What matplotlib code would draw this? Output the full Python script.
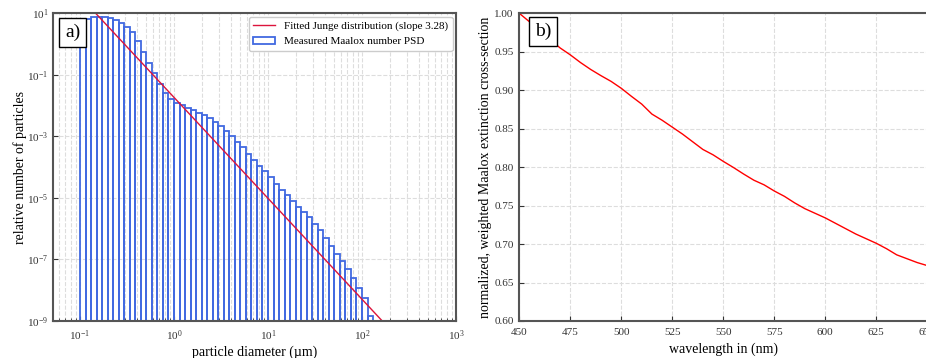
import numpy as np
import matplotlib.pyplot as plt
from matplotlib.ticker import NullLocator

plt.rcParams['font.family'] = ['Liberation Serif', 'DejaVu Serif']
plt.rcParams['mathtext.fontset'] = 'stix'

# bin edges of the measured size classes (um)
bin_edges = [0.1, 0.1145, 0.1311, 0.1501, 0.1719, 0.1968, 0.2254, 0.258, 0.2955,
             0.3383, 0.3873, 0.4435, 0.5078, 0.5815, 0.6658, 0.7623, 0.8729,
             1.0, 1.145, 1.311, 1.501, 1.719, 1.968, 2.254, 2.58, 2.955,
             3.383, 3.873, 4.435, 5.078, 5.815, 6.658, 7.623, 8.729,
             10.0, 11.45, 13.11, 15.01, 17.19, 19.68, 22.54, 25.8, 29.55,
             33.83, 38.73, 44.35, 50.78, 58.15, 66.58, 76.23, 87.29,
             100.0, 114.5, 131.1]

# relative number of particles per class
psd = [4.50, 6.78, 7.41, 7.76, 7.76, 7.19, 6.05, 4.84, 3.46, 2.38,
       1.29, 0.566, 0.249, 0.118, 0.0495, 0.0253, 0.0161, 0.0122, 0.0101, 0.00824,
       0.00724, 0.00593, 0.00481, 0.00384, 0.00285, 0.00219, 0.00151, 0.00104, 6.78e-4, 4.46e-4,
       2.70e-4, 1.77e-4, 1.09e-4, 7.41e-5, 4.70e-5, 2.87e-5, 1.83e-5, 1.23e-5, 7.87e-6, 5.26e-6,
       3.61e-6, 2.31e-6, 1.44e-6, 8.75e-7, 4.95e-7, 2.79e-7, 1.53e-7, 8.87e-8, 4.88e-8, 2.49e-8,
       1.20e-8, 5.70e-9, 1.41e-9]

# fitted Junge distribution N = c * d^-slope
junge_slope = 3.28
junge_coeff = 0.0185

wavelength = [450, 455, 460, 465, 470, 475, 480, 485, 490, 495,
              500, 505, 510, 515, 520, 525, 530, 535, 540, 545,
              550, 555, 560, 565, 570, 575, 580, 585, 590, 595,
              600, 605, 610, 615, 620, 625, 630, 635, 640, 645, 650]
ext = [1.000, 0.989, 0.978, 0.966, 0.955, 0.946, 0.936, 0.927, 0.919, 0.9115,
       0.9025, 0.892, 0.882, 0.869, 0.861, 0.852, 0.843, 0.833, 0.823, 0.816,
       0.8075, 0.7995, 0.791, 0.783, 0.777, 0.769, 0.762, 0.7535, 0.746, 0.740,
       0.734, 0.727, 0.720, 0.713, 0.707, 0.701, 0.694, 0.686, 0.681, 0.676, 0.672]

fig = plt.figure(figsize=(9.26, 3.58), dpi=100)
ax1 = fig.add_axes([0.0576, 0.1034, 0.4348, 0.8594])
ax2 = fig.add_axes([0.5608, 0.1034, 0.4406, 0.8594])

edges = np.array(bin_edges)
ax1.bar(edges[:-1], psd, width=np.diff(edges), align='edge', fill=False,
        edgecolor='royalblue', linewidth=1.3, label='Measured Maalox number PSD')
d = np.logspace(np.log10(0.05), 3, 200)
ax1.plot(d, junge_coeff * d ** (-junge_slope), color='crimson', lw=1,
         label='Fitted Junge distribution (slope %.2f)' % junge_slope)
ax1.set_xscale('log')
ax1.set_yscale('log')
ax1.set_xlim(0.052, 1000)
ax1.set_ylim(1e-9, 10)
ax1.set_yticks([1e1, 1e-1, 1e-3, 1e-5, 1e-7, 1e-9])
ax1.yaxis.set_minor_locator(NullLocator())
ax1.grid(True, which='both', ls='--', color='#dddddd', lw=0.8)
ax1.set_axisbelow(True)
ax1.set_xlabel('particle diameter (µm)', fontsize=10, labelpad=2)
ax1.set_ylabel('relative number of particles', fontsize=10, labelpad=0)
ax1.legend(loc='upper right', fontsize=8, framealpha=1, borderaxespad=0.3)
ax1.text(0.029, 0.966, 'a)', transform=ax1.transAxes, va='top', ha='left', fontsize=14,
         bbox=dict(boxstyle='square,pad=0.3', fc='white', ec='black'))

ax2.plot(wavelength, ext, color='red', lw=1)
ax2.set_xlim(450, 650)
ax2.set_ylim(0.6, 1.0)
ax2.grid(True, ls='--', color='#dddddd', lw=0.8)
ax2.set_xlabel('wavelength in (nm)', fontsize=10, labelpad=4)
ax2.set_ylabel('normalized, weighted Maalox extinction cross-section', fontsize=10, labelpad=2)
ax2.text(0.039, 0.968, 'b)', transform=ax2.transAxes, va='top', ha='left', fontsize=14,
         bbox=dict(boxstyle='square,pad=0.3', fc='white', ec='black'))

for ax in (ax1, ax2):
    for s in ax.spines.values():
        s.set_color('#555555')
        s.set_linewidth(1.5)
    ax.tick_params(which='both', direction='in', labelsize=8, colors='#333333', pad=4)
ax1.tick_params(axis='y', pad=3.5)
ax1.tick_params(axis='x', pad=5)
ax2.tick_params(axis='x', pad=5)

plt.savefig('out.png', dpi=100)
